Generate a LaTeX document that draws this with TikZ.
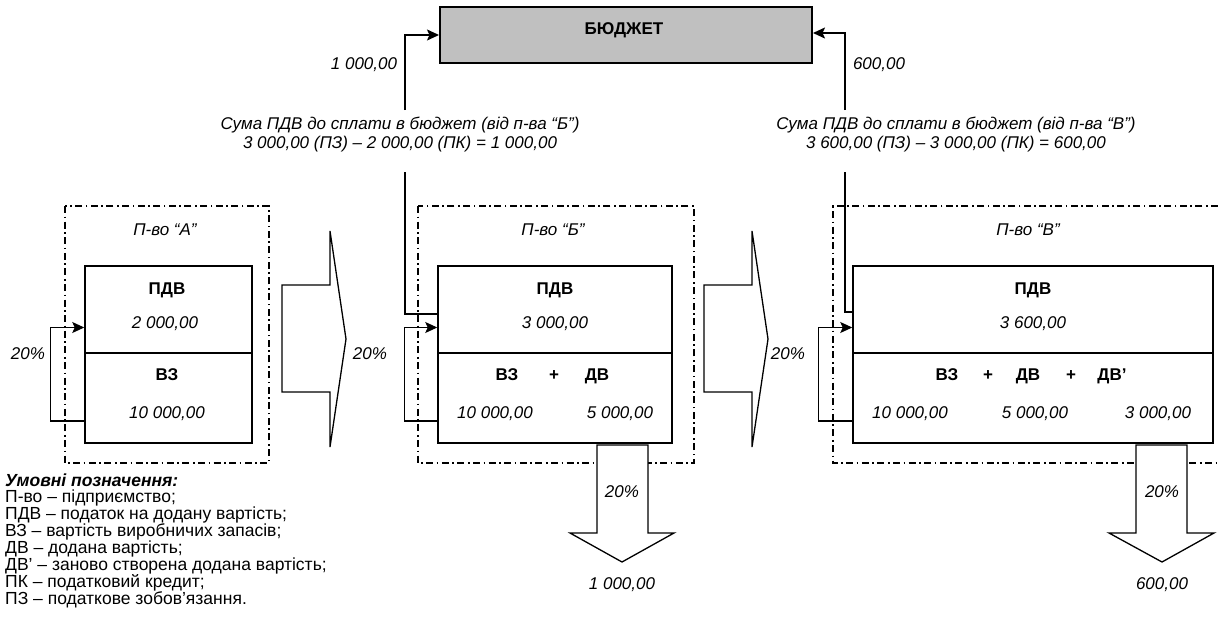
\documentclass[tikz,border=0pt]{standalone}
\usepackage{fontspec}
\setmainfont{Liberation Sans}
\usetikzlibrary{arrows.meta,calc}
\definecolor{budgetgray}{HTML}{C0C0C0}
\begin{document}
\begin{tikzpicture}[x=1pt,y=-1pt,
  itxt/.style={font=\fontsize{17}{20}\selectfont\itshape, inner sep=0pt, text height=12.2pt, text depth=0pt},
  btxt/.style={font=\fontsize{17}{20}\selectfont\bfseries, inner sep=0pt, text height=12.2pt, text depth=0pt},
  ltxt/.style={font=\fontsize{17.5}{17}\selectfont, inner sep=0pt, anchor=base west},
  ibox/.style={draw, line width=1.5pt, minimum height=177pt, inner sep=0pt},
  dbox/.style={draw, line width=1.2pt, dash pattern=on 7pt off 3.5pt on 1.6pt off 3.5pt},
  conn/.style={line width=1.2pt},
  upconn/.style={line width=1.6pt},
  arr/.style={-{Stealth[length=12pt,width=11pt,inset=2.5pt]}},
  barrow/.style={draw, fill=white, line width=1.3pt, line join=miter},
]
\useasboundingbox (0,0) rectangle (1218,632);

% budget
\node[draw, line width=2pt, fill=budgetgray, minimum width=372pt, minimum height=56pt, inner sep=0pt] (budget) at (626,35) {};
\node[btxt] (budgettxt) at (624,28) {БЮДЖЕТ};

% enterprise frames
\draw[dbox] (65,206) rectangle (269,463);
\draw[dbox] (418,206) rectangle (694,463);
\draw[dbox] (1218,206) -- (833,206) -- (833,463) -- (1218,463);

\node[itxt] (pA) at (165,229) {П-во “А”};
\node[itxt] (pB) at (553,229) {П-во “Б”};
\node[itxt] (pV) at (1028,229) {П-во “В”};

% inner boxes
\node[ibox, minimum width=167pt] (boxA) at (168.5,354.5) {};
\node[ibox, minimum width=234pt] (boxB) at (555,354.5) {};
\node[ibox, minimum width=360pt] (boxV) at (1033,354.5) {};
\draw[line width=1.5pt] ([yshift=1.5pt]boxA.west) -- ([yshift=1.5pt]boxA.east);
\draw[line width=1.5pt] ([yshift=1.5pt]boxB.west) -- ([yshift=1.5pt]boxB.east);
\draw[line width=1.5pt] ([yshift=1.5pt]boxV.west) -- ([yshift=1.5pt]boxV.east);

% box A texts
\node[btxt] (aPDV) at (167,288) {ПДВ};
\node[itxt] (aPDVv) at (165,322) {2 000,00};
\node[btxt] (aVZ) at (167,374) {ВЗ};
\node[itxt] (aVZv) at (167,412) {10 000,00};

% box B texts
\node[btxt] (bPDV) at (555,288) {ПДВ};
\node[itxt] (bPDVv) at (555,322) {3 000,00};
\node[btxt] (bVZ) at (507,374) {ВЗ};
\node[btxt] (bPlus) at (554,374) {+};
\node[btxt] (bDV) at (597,374) {ДВ};
\node[itxt] (bVZv) at (495,412) {10 000,00};
\node[itxt] (bDVv) at (620,412) {5 000,00};

% box V texts
\node[btxt] (vPDV) at (1033,288) {ПДВ};
\node[itxt] (vPDVv) at (1033,322) {3 600,00};
\node[btxt] (vVZ) at (947,374) {ВЗ};
\node[btxt] (vPlus1) at (988,374) {+};
\node[btxt] (vDV) at (1028,374) {ДВ};
\node[btxt] (vPlus2) at (1071,374) {+};
\node[btxt] (vDV2) at (1112,374) {ДВ’};
\node[itxt] (vVZv) at (910,412) {10 000,00};
\node[itxt] (vDVv) at (1035,412) {5 000,00};
\node[itxt] (vDV2v) at (1158,412) {3 000,00};

% feedback loops
\draw[conn,arr] ([yshift=-66.5pt]boxA.west) -- ++(-34,0) |- ([yshift=27pt]boxA.west);
\draw[conn,arr] ([yshift=-66.5pt]boxB.west) -- ++(-33,0) |- ([yshift=27pt]boxB.west);
\draw[conn,arr] ([yshift=-66.5pt]boxV.west) -- ++(-34,0) |- ([yshift=27pt]boxV.west);
\node[itxt] (pctA) at (28,353) {20\%};
\node[itxt] (pctB) at (370,353) {20\%};
\node[itxt] (pctV) at (788,353) {20\%};

% connectors to budget
\coordinate (bLow) at (405,172);
\coordinate (bHigh) at (405,110);
\coordinate (vLow) at (845,172);
\coordinate (vHigh) at (845,110);
\draw[conn] ([yshift=40.5pt]boxB.west) -| (bLow);
\draw[upconn,arr] (bHigh) |- (budget.west);
\draw[conn] ([yshift=42.5pt]boxV.west) -| (vLow);
\draw[upconn,arr] (vHigh) |- ([yshift=2pt]budget.east);
\node[itxt] (sumB) at (364,63) {1 000,00};
\node[itxt] (sumV) at (879,63) {600,00};

\node[itxt] (capB1) at (400,123) {Сума ПДВ до сплати в бюджет (від п-ва “Б”)};
\node[itxt] (capB2) at (400,142) {3 000,00 (ПЗ) – 2 000,00 (ПК) = 1 000,00};
\node[itxt] (capV1) at (956,123) {Сума ПДВ до сплати в бюджет (від п-ва “В”)};
\node[itxt] (capV2) at (956,142) {3 600,00 (ПЗ) – 3 000,00 (ПК) = 600,00};

% block arrows
\draw[barrow] (282,285) -- (330,285) -- (330,231) -- (346,339) -- (330,447) -- (330,392) -- (282,392) -- cycle;
\draw[barrow] (704,285) -- (752,285) -- (752,231) -- (768,339) -- (752,447) -- (752,392) -- (704,392) -- cycle;
\draw[barrow] (597,445) -- (648,445) -- (648,533) -- (674,533) -- (622,562) -- (570,533) -- (597,533) -- cycle;
\draw[barrow] (1136,445) -- (1187,445) -- (1187,533) -- (1214,533) -- (1162,562) -- (1109,533) -- (1136,533) -- cycle;
\node[itxt] (dpctB) at (622,491) {20\%};
\node[itxt] (dpctV) at (1162,491) {20\%};
\node[itxt] (dsumB) at (622,583) {1 000,00};
\node[itxt] (dsumV) at (1162,583) {600,00};

% legend
\node[ltxt, font=\fontsize{17.5}{17}\selectfont\bfseries\itshape] (leg0) at (5,486) {Умовні позначення:};
\node[ltxt] (leg1) at (5,502.9) {П-во – підприємство;};
\node[ltxt] (leg2) at (5,519.8) {ПДВ – податок на додану вартість;};
\node[ltxt] (leg3) at (5,536.7) {ВЗ – вартість виробничих запасів;};
\node[ltxt] (leg4) at (5,553.6) {ДВ – додана вартість;};
\node[ltxt] (leg5) at (5,570.5) {ДВ’ – заново створена додана вартість;};
\node[ltxt] (leg6) at (5,587.4) {ПК – податковий кредит;};
\node[ltxt] (leg7) at (5,604.3) {ПЗ – податкове зобов’язання.};
\end{tikzpicture}
\end{document}
